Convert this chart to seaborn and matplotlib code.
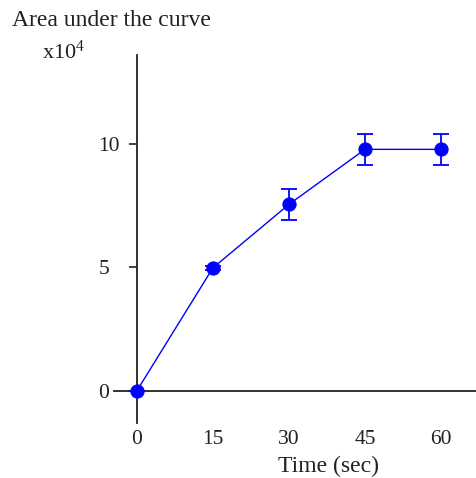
import matplotlib
matplotlib.use("Agg")
import matplotlib.pyplot as plt
import seaborn as sns
import pandas as pd

time_sec = [0, 15, 30, 45, 60]
area_x1e4 = [0.0, 4.98, 7.55, 9.78, 9.78]
err_x1e4 = [0.0, 0.08, 0.62, 0.63, 0.63]
x_ticks = [0, 15, 30, 45, 60]
y_ticks = [0, 5, 10]

sns.set_style("white")
plt.rcParams['font.family'] = ['Liberation Serif', 'DejaVu Serif']
plt.rcParams['mathtext.fontset'] = 'custom'
plt.rcParams['mathtext.rm'] = 'Liberation Serif'
plt.rcParams['mathtext.it'] = 'Liberation Serif'

df = pd.DataFrame({"t": time_sec, "a": area_x1e4, "e": err_x1e4})

fig = plt.figure(figsize=(4.76, 4.78), dpi=100)
ax = fig.add_axes([114/476, 1 - 423/478, (476 - 114)/476, (423 - 55)/478])

blue = "#0000ff"
ax.errorbar(df["t"], df["a"], yerr=df["e"], fmt="none", ecolor=blue,
            elinewidth=1.3, capsize=5.5, capthick=1.3, zorder=3)
sns.lineplot(data=df, x="t", y="a", ax=ax, color=blue, linewidth=1.0,
             marker="o", markersize=9.5, markeredgecolor=blue, zorder=4)

ax.set_xlim(-4.5, 66.9)
ax.set_ylim(-1.3, 13.6)
ax.set_xticks(x_ticks)
ax.set_yticks(y_ticks)
ax.set_xticklabels([str(v) for v in x_ticks])
ax.set_yticklabels([str(v) for v in y_ticks])

for s in ["top", "right"]:
    ax.spines[s].set_visible(False)
ax.spines["left"].set_position(("data", 0))
ax.spines["bottom"].set_position(("data", 0))
for s in ["left", "bottom"]:
    ax.spines[s].set_color("#222222")
    ax.spines[s].set_linewidth(1.3)

ax.tick_params(axis="x", length=0, pad=28, labelsize=15.5, colors="#222222")
ax.tick_params(axis="y", length=6, width=1.2, pad=21.5, labelsize=15.5,
               colors="#222222", left=True)
for lab in ax.get_yticklabels():
    lab.set_horizontalalignment("left")
ax.set_xlabel("")
ax.set_ylabel("")
ax.patch.set_alpha(0)

fig.text(12/476, 1 - 20/478, "Area under the curve", fontsize=17,
         ha="left", va="center", color="#222222")
fig.text(42/476, 1 - 52/478, r"x10$^{4}$", fontsize=16,
         ha="left", va="center", color="#222222")
fig.text(329/476, 1 - 466/478, "Time (sec)", fontsize=17,
         ha="center", va="center", color="#222222")

fig.savefig("out.png", dpi=100)
